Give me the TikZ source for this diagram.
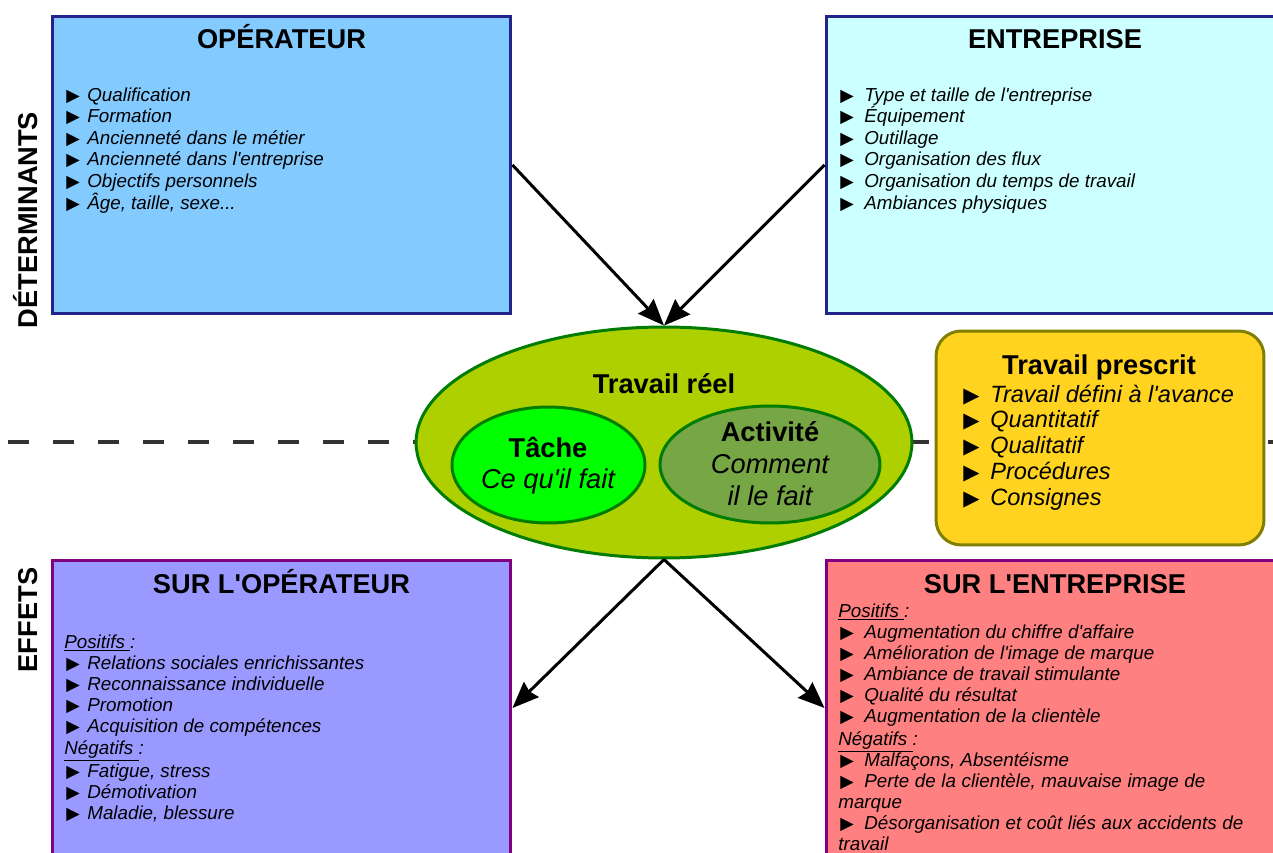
\documentclass[tikz,border=0pt]{standalone}
\usepackage{fontspec}
\setmainfont{Liberation Sans}[Ligatures=TeXOff]
\newfontfamily\symboles{DejaVu Sans}
\usepackage{tikz}
\usetikzlibrary{
        arrows.meta,
        positioning,
        shapes.geometric
    }
\definecolor{bleuop}{RGB}{131,202,255}
\definecolor{bordbleu}{RGB}{35,35,140}
\definecolor{cyanent}{RGB}{204,255,255}
\definecolor{vertreel}{RGB}{174,207,0}
\definecolor{bordvert}{RGB}{0,125,0}
\definecolor{verttache}{RGB}{0,255,0}
\definecolor{vertact}{RGB}{119,166,68}
\definecolor{jaunepres}{RGB}{255,211,32}
\definecolor{bordolive}{RGB}{128,128,0}
\definecolor{violeffop}{RGB}{153,153,255}
\definecolor{rougeeffent}{RGB}{255,128,128}
\definecolor{bordviolet}{RGB}{128,0,128}
\definecolor{tirets}{RGB}{51,51,51}
\newcommand{\puce}{{\symboles\symbol{"25B6}}}
\newcommand{\pts}{.\kern0pt.\kern0pt.}
\tikzset{>={Stealth[length=15pt,width=12pt,inset=1.5pt]}}

\begin{document}
\begin{tikzpicture}[x=0.02cm,y=-0.02cm,
        boite/.style={rectangle,line width=1.7pt,inner sep=0pt,minimum width=9.18cm},
        bulle/.style={ellipse,draw=bordvert,line width=1.7pt,inner sep=0pt},
        titre/.style={font=\fontsize{15.5}{18}\selectfont\bfseries,inner sep=0pt,anchor=base},
        sous/.style={font=\fontsize{15.5}{18}\selectfont\itshape,inner sep=0pt,anchor=base},
        elem/.style={font=\fontsize{10.7}{12}\selectfont\itshape,inner sep=0pt,anchor=base west},
        puce/.style={font=\fontsize{10}{12}\selectfont,inner sep=0pt,anchor=base west},
        grandelem/.style={font=\fontsize{13.4}{15}\selectfont\itshape,inner sep=0pt,anchor=base west},
        grandepuce/.style={font=\fontsize{12}{15}\selectfont,inner sep=0pt,anchor=base west}]

    \clip (0,0) rectangle (1273,852);

    % ligne de separation
    \coordinate (sep-g) at (8,442);
    \coordinate (sep-d) at (1273,442);
    \draw[tirets,line width=2.3pt,dash pattern=on 0.42cm off 0.48cm] (sep-g) -- (sep-d);

    \node[boite,draw=bordbleu,fill=bleuop,minimum height=5.96cm] (operateur) at (281.5,165) {};
    \node[boite,draw=bordbleu,fill=cyanent,minimum height=5.96cm] (entreprise) at (1055.5,165) {};
    \node[boite,draw=bordviolet,fill=violeffop,minimum height=5.92cm] (effop) at (281.5,708) {};
    \node[boite,draw=bordviolet,fill=rougeeffent,minimum height=5.92cm] (effent) at (1055.5,708) {};

    \node[bulle,fill=vertreel,minimum width=9.92cm,minimum height=4.62cm] (reel) at (664,442.5) {};
    \node[bulle,fill=verttache,minimum width=3.86cm,minimum height=2.32cm] (tache) at (548.5,465) {};
    \node[bulle,fill=vertact,minimum width=4.4cm,minimum height=2.34cm] (activite) at (770,464.5) {};
    \node[rectangle,rounded corners=0.5cm,draw=bordolive,fill=jaunepres,line width=1.7pt,
          minimum width=6.56cm,minimum height=4.28cm] (prescrit) at (1100,438) {};

    \draw[->,line width=1.7pt] (operateur.east) -- (reel.north);
    \draw[->,line width=1.7pt] (entreprise.west) -- (reel.north);
    \draw[->,line width=1.7pt] (reel.south) -- (effop.east);
    \draw[->,line width=1.7pt] (reel.south) -- (effent.west);

    \node[titre,rotate=90] (t-det) at (37,220) {DÉTERMINANTS};
    \node[titre,rotate=90] (t-eff) at (37,620) {EFFETS};

    \node[titre] (t-op) at (281.5,48) {OPÉRATEUR};
    \node[titre] (t-ent) at (1055,48) {ENTREPRISE};
    \node[titre] (t-effop) at (281.5,593) {SUR L'OPÉRATEUR};
    \node[titre] (t-effent) at (1055,593) {SUR L'ENTREPRISE};

    \node[titre] (t-reel) at (664,393) {Travail réel};
    \node[titre] (t-tache) at (548,457) {Tâche};
    \node[sous] (t-tache2) at (548,488) {Ce qu'il fait};
    \node[titre] (t-act) at (770,441) {Activité};
    \node[sous] (t-act2) at (770,473) {Comment};
    \node[sous] (t-act3) at (770,505) {il le fait};
    \node[titre] (t-pres) at (1099,374) {Travail prescrit};

    \foreach \t [count=\i] in {Qualification, Formation, Ancienneté dans le métier,
            Ancienneté dans l'entreprise, Objectifs personnels, {Âge, taille, sexe\pts}} {
        \node[puce] (op-p\i) at (66,{101+21.6*(\i-1)}) {\puce};
        \node[elem] (op-\i) at (87,{101+21.6*(\i-1)}) {\t};
    }
    \foreach \t [count=\i] in {Type et taille de l'entreprise, Équipement, Outillage,
            Organisation des flux, Organisation du temps de travail, Ambiances physiques} {
        \node[puce] (ent-p\i) at (840,{101+21.6*(\i-1)}) {\puce};
        \node[elem] (ent-\i) at (864,{101+21.6*(\i-1)}) {\t};
    }
    \foreach \t [count=\i] in {Travail défini à l'avance, Quantitatif, Qualitatif,
            Procédures, Consignes} {
        \node[grandepuce] (pres-p\i) at (963,{402+25.8*(\i-1)}) {\puce};
        \node[grandelem] (pres-\i) at (990,{402+25.8*(\i-1)}) {\t};
    }

    % effets sur l'operateur
    \node[elem] (effop-pos) at (64,648) {\underline{Positifs\ }:};
    \foreach \t [count=\i] in {Relations sociales enrichissantes, Reconnaissance individuelle,
            Promotion, Acquisition de compétences} {
        \node[puce] (effop-pp\i) at (66,{669+21.3*(\i-1)}) {\puce};
        \node[elem] (effop-p\i) at (87,{669+21.3*(\i-1)}) {\t};
    }
    \node[elem] (effop-neg) at (64,754) {\underline{Négatifs\ }:};
    \foreach \t [count=\i] in {{Fatigue, stress}, Démotivation, {Maladie, blessure}} {
        \node[puce] (effop-np\i) at (66,{777+21*(\i-1)}) {\puce};
        \node[elem] (effop-n\i) at (87,{777+21*(\i-1)}) {\t};
    }

    % effets sur l'entreprise
    \node[elem] (effent-pos) at (838,617) {\underline{Positifs\ }:};
    \foreach \t [count=\i] in {Augmentation du chiffre d'affaire, Amélioration de l'image de marque,
            Ambiance de travail stimulante, Qualité du résultat, Augmentation de la clientèle} {
        \node[puce] (effent-pp\i) at (840,{638+21.2*(\i-1)}) {\puce};
        \node[elem] (effent-p\i) at (864,{638+21.2*(\i-1)}) {\t};
    }
    \node[elem] (effent-neg) at (838,745) {\underline{Négatifs\ }:};
    \node[puce] (effent-np1) at (840,766) {\puce};
    \node[elem] (effent-n1) at (864,766) {Malfaçons, Absentéisme};
    \node[puce] (effent-np2) at (840,787) {\puce};
    \node[elem] (effent-n2) at (864,787) {\makebox[6.82cm][s]{Perte de la clientèle, mauvaise image de}};
    \node[elem] (effent-n2b) at (838,808) {marque};
    \node[puce] (effent-np3) at (840,829) {\puce};
    \node[elem] (effent-n3) at (864,829) {\makebox[7.58cm][s]{Désorganisation et coût liés aux accidents de}};
    \node[elem] (effent-n3b) at (838,850) {travail};
\end{tikzpicture}
\end{document}
